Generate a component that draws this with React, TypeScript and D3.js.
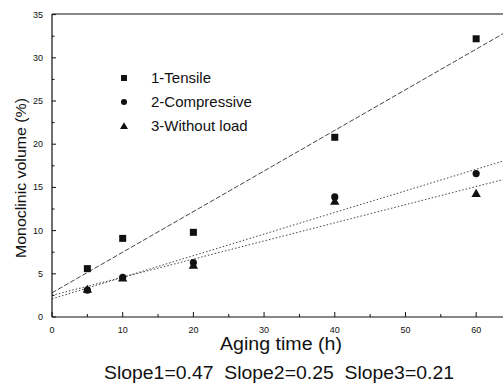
import React from "react";
import * as d3 from "d3";

const times = [5, 10, 20, 40, 60];
const tensile = [5.6, 9.1, 9.8, 20.8, 32.2];
const compressive = [3.1, 4.6, 6.3, 13.9, 16.6];
const withoutLoad = [3.2, 4.5, 6.0, 13.4, 14.3];
const seriesNames = ["1-Tensile", "2-Compressive", "3-Without load"];
const fitIntercepts = [2.8, 2.1, 2.5];
const fitSlopes = [0.47, 0.25, 0.21];
const xTicks = [0, 10, 20, 30, 40, 50, 60];
const yTicks = [0, 5, 10, 15, 20, 25, 30, 35];
const slopeText = "Slope1=0.47  Slope2=0.25  Slope3=0.21";

export default function App() {
  const W = 503, H = 385;
  const x = d3.scaleLinear().domain([0, 65]).range([52, 511.5]);
  const y = d3.scaleLinear().domain([0, 35]).range([317, 14.6]);
  const series = [tensile, compressive, withoutLoad];
  const dashes = ["5,2", "1.5,2", "1.5,2"];
  const line = d3.line<[number, number]>().x(d => x(d[0])).y(d => y(d[1]));
  const font = "'Liberation Sans', Arial, sans-serif";
  const ink = "#111";

  const marker = (k: number, cx: number, cy: number, key: string, s = 1) => {
    if (k === 0) return <rect key={key} x={cx - 3.5 * s} y={cy - 3.5 * s} width={7 * s} height={7 * s} fill={ink} />;
    if (k === 1) return <circle key={key} cx={cx} cy={cy} r={3.6 * s} fill={ink} />;
    const sym = d3.symbol().type(d3.symbolTriangle).size(38 * s * s)();
    return <path key={key} d={sym || ""} transform={`translate(${cx},${cy + 0.8})`} fill={ink} />;
  };

  const minorX = d3.range(5, 65, 10);
  const minorY = d3.range(2.5, 35, 5);

  return (
    <svg width={W} height={H} style={{ position: "absolute", left: 0, top: 0, background: "#fff" }}>
      {fitIntercepts.map((b, i) => (
        <path key={"fit" + i}
          d={line([[0, b], [65, b + fitSlopes[i] * 65]]) || ""}
          fill="none" stroke="#444" strokeWidth={1} strokeDasharray={dashes[i]} />
      ))}
      <line x1={52} y1={14} x2={503} y2={14} stroke={ink} strokeWidth={1.2} />
      <line x1={52} y1={14} x2={52} y2={317} stroke={ink} strokeWidth={1.2} />
      <line x1={52} y1={317} x2={503} y2={317} stroke={ink} strokeWidth={1.2} />
      {xTicks.map(t => (
        <g key={"xt" + t}>
          <line x1={x(t)} x2={x(t)} y1={317} y2={312} stroke={ink} />
          <text x={x(t)} y={333} fontSize={9} fontFamily={font} textAnchor="middle" fill={ink}>{t}</text>
        </g>
      ))}
      {minorX.map(t => (
        <line key={"xm" + t} x1={x(t)} x2={x(t)} y1={317} y2={314} stroke={ink} />
      ))}
      {yTicks.map(t => (
        <g key={"yt" + t}>
          <line x1={52} x2={56} y1={y(t)} y2={y(t)} stroke={ink} />
          <text x={43} y={y(t) + 3} fontSize={9} fontFamily={font} textAnchor="end" fill={ink}>{t}</text>
        </g>
      ))}
      {minorY.map(t => (
        <line key={"ym" + t} x1={52} x2={54.5} y1={y(t)} y2={y(t)} stroke={ink} />
      ))}
      {series.map((vals, k) => vals.map((v, i) => marker(k, x(times[i]), y(v), `p${k}-${i}`)))}
      {seriesNames.map((n, k) => (
        <g key={"lg" + k}>
          {marker(k, 124, 78 + k * 24, "lm" + k, 0.85)}
          <text x={151} y={78 + k * 24 + 5} fontSize={15} fontFamily={font} fill={ink}>{n}</text>
        </g>
      ))}
      <text transform={`translate(26,178) rotate(-90)`} fontSize={15} fontFamily={font} textAnchor="middle"
        textLength={160} lengthAdjust="spacingAndGlyphs" fill={ink}>Monoclinic volume (%)</text>
      <text x={281} y={350} fontSize={18} fontFamily={font} textAnchor="middle"
        textLength={122} lengthAdjust="spacingAndGlyphs" fill={ink}>Aging time (h)</text>
      <text x={279} y={379} fontSize={18} fontFamily={font} textAnchor="middle" style={{ whiteSpace: "pre" }}
        textLength={350} lengthAdjust="spacingAndGlyphs" fill={ink}>{slopeText}</text>
    </svg>
  );
}
